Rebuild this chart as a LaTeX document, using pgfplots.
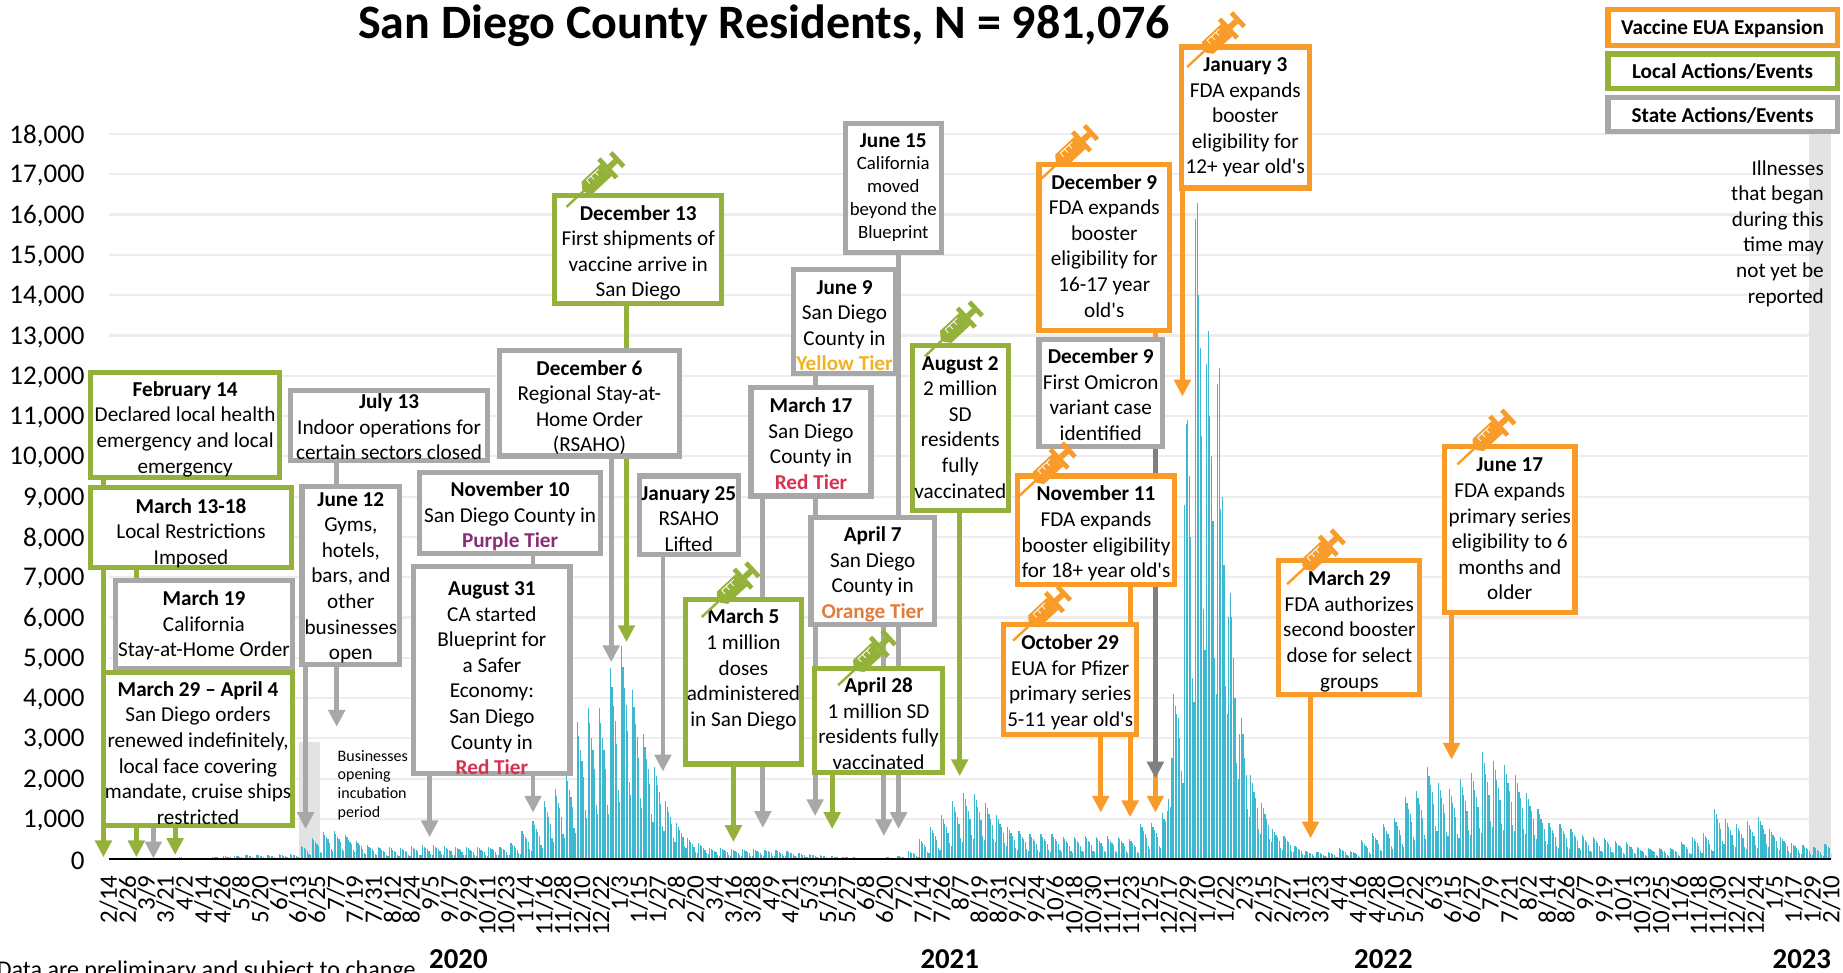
\documentclass[border=0pt]{standalone}
\usepackage{fontspec}
\setmainfont{Carlito}[Ligatures=TeXOff]
\usepackage{xcolor}
\usepackage{pgfplots}
\usepackage{pgfplotstable}
\pgfplotsset{compat=1.18}
\definecolor{cbar}{HTML}{3DB8CF}
\definecolor{cor}{HTML}{F99B28}
\definecolor{cgr}{HTML}{94B23A}
\definecolor{cgy}{HTML}{A8A8A8}
\definecolor{cdk}{HTML}{808080}
\definecolor{cshade}{HTML}{E3E3E3}
\definecolor{tpurple}{HTML}{8A2C78}
\definecolor{tred}{HTML}{D6324F}
\definecolor{torange}{HTML}{E27C3C}
\definecolor{tyellow}{HTML}{F0B323}

% daily counts, one row per week: d = day index of the Monday (0 = 2/14/2020)
\pgfplotstableread{
d c0 c1 c2 c3 c4 c5 c6
-4 0 0 0 0 0 0 0
3 0 0 0 0 0 0 0
10 0 0 0 0 0 0 0
17 2 2 2 1 1 1 1
24 10 9 8 7 6 4 3
31 30 27 24 22 18 11 9
38 40 36 32 29 24 14 12
45 50 45 40 36 30 18 15
52 40 36 32 29 24 14 12
59 40 36 32 29 24 14 12
66 60 54 48 43 36 22 18
73 80 72 64 58 48 29 24
80 90 81 72 65 54 32 27
87 110 99 88 79 66 40 33
94 110 99 88 79 66 40 33
101 100 90 80 72 60 36 30
108 120 108 96 86 72 43 36
115 130 117 104 94 78 47 39
122 340 306 272 245 204 122 102
129 530 477 424 382 318 191 159
136 680 612 544 490 408 245 204
143 700 630 560 504 420 252 210
150 610 549 488 439 366 220 183
157 440 396 352 317 264 158 132
164 350 315 280 252 210 126 105
171 300 270 240 216 180 108 90
178 300 270 240 216 180 108 90
185 280 252 224 202 168 101 84
192 320 288 256 230 192 115 96
199 350 315 280 252 210 126 105
206 350 315 280 252 210 126 105
213 320 288 256 230 192 115 96
220 310 279 248 223 186 112 93
227 300 270 240 216 180 108 90
234 300 270 240 216 180 108 90
241 310 279 248 223 186 112 93
248 310 279 248 223 186 112 93
255 400 360 320 288 240 144 120
262 700 630 560 504 420 252 210
269 950 855 760 684 570 342 285
276 1450 1305 1160 1044 870 522 435
283 1750 1575 1400 1260 1050 630 525
290 2150 1935 1720 1548 1290 774 645
297 3400 3060 2720 2448 2040 1224 1020
304 3750 3375 3000 2700 2250 1350 1125
311 3750 3375 3000 2700 2250 1350 1125
318 4750 4275 3800 3420 2850 1710 1425
325 5300 4770 4240 3816 3180 1908 1590
332 4200 3780 3360 3024 2520 1512 1260
339 3100 2790 2480 2232 1860 1116 930
346 2300 2070 1840 1656 1380 828 690
353 1450 1305 1160 1044 870 522 435
360 900 810 720 648 540 324 270
367 520 468 416 374 312 187 156
374 400 360 320 288 240 144 120
381 290 261 232 209 174 104 87
388 280 252 224 202 168 101 84
395 260 234 208 187 156 94 78
402 250 225 200 180 150 90 75
409 260 234 208 187 156 94 78
416 240 216 192 173 144 86 72
423 230 207 184 166 138 83 69
430 200 180 160 144 120 72 60
437 160 144 128 115 96 58 48
444 130 117 104 94 78 47 39
451 100 90 80 72 60 36 30
458 80 72 64 58 48 29 24
465 60 54 48 43 36 22 18
472 50 45 40 36 30 18 15
479 40 36 32 29 24 14 12
486 40 36 32 29 24 14 12
493 50 45 40 36 30 18 15
500 80 72 64 58 48 29 24
507 200 180 160 144 120 72 60
514 500 450 400 360 300 180 150
521 800 720 640 576 480 288 240
528 1100 990 880 792 660 396 330
535 1450 1305 1160 1044 870 522 435
542 1650 1485 1320 1188 990 594 495
549 1620 1458 1296 1166 972 583 486
556 1400 1260 1120 1008 840 504 420
563 1100 990 880 792 660 396 330
570 800 720 640 576 480 288 240
577 700 630 560 504 420 252 210
584 620 558 496 446 372 223 186
591 620 558 496 446 372 223 186
598 620 558 496 446 372 223 186
605 550 495 440 396 330 198 165
612 560 504 448 403 336 202 168
619 580 522 464 418 348 209 174
626 560 504 448 403 336 202 168
633 570 513 456 410 342 205 171
640 550 495 440 396 330 198 165
647 500 450 400 360 300 180 150
654 880 792 704 634 528 317 264
661 900 810 720 648 540 324 270
668 1150 1000 950 1200 1500 1300 2500
675 4100 3800 3600 3500 3000 2200 1900
682 8800 10800 10900 9500 8000 4500 3900
689 15900 16300 14000 12700 10500 6200 5200
696 12300 13100 11000 10000 8400 5000 4100
703 11800 12200 8700 9000 7300 4300 3600
710 6000 6600 6000 5000 4000 2400 2000
717 3100 3500 3100 2500 2100 1250 1050
724 2100 1890 1680 1512 1260 756 630
731 1400 1260 1120 1008 840 504 420
738 750 675 600 540 450 270 225
745 580 522 464 418 348 209 174
752 330 297 264 238 198 119 99
759 200 180 160 144 120 72 60
766 190 171 152 137 114 68 57
773 180 162 144 130 108 65 54
780 280 252 224 202 168 101 84
787 210 189 168 151 126 76 63
794 470 423 376 338 282 169 141
801 650 585 520 468 390 234 195
808 880 792 704 634 528 317 264
815 1020 918 816 734 612 367 306
822 1550 1395 1240 1116 930 558 465
829 1700 1530 1360 1224 1020 612 510
836 2300 2070 1840 1656 1380 828 690
843 1900 1710 1520 1368 1140 684 570
850 1750 1575 1400 1260 1050 630 525
857 2000 1800 1600 1440 1200 720 600
864 2150 1935 1720 1548 1290 774 645
871 2650 2385 2120 1908 1590 954 795
878 2450 2205 1960 1764 1470 882 735
885 2350 2115 1880 1692 1410 846 705
892 2100 1890 1680 1512 1260 756 630
899 1650 1485 1320 1188 990 594 495
906 1250 1125 1000 900 750 450 375
913 900 810 720 648 540 324 270
920 870 783 696 626 522 313 261
927 750 675 600 540 450 270 225
934 600 540 480 432 360 216 180
941 560 504 448 403 336 202 168
948 520 468 416 374 312 187 156
955 450 405 360 324 270 162 135
962 420 378 336 302 252 151 126
969 300 270 240 216 180 108 90
976 280 252 224 202 168 101 84
983 270 243 216 194 162 97 81
990 280 252 224 202 168 101 84
997 430 387 344 310 258 155 129
1004 550 495 440 396 330 198 165
1011 650 585 520 468 390 234 195
1018 1250 1125 1000 900 750 450 375
1025 1000 900 800 720 600 360 300
1032 870 783 696 626 522 313 261
1039 950 855 760 684 570 342 285
1046 1050 945 840 756 630 378 315
1053 750 675 600 540 450 270 225
1060 550 495 440 396 330 198 165
1067 400 360 320 288 240 144 120
1074 350 315 280 252 210 126 105
1081 300 270 240 216 180 108 90
1088 380 342 304 274 150 0 0
}\wk

\newcommand{\fs}{\fontsize{10.6}{12.8}\selectfont}
\newcommand{\fss}{\fontsize{9.4}{11.4}\selectfont}
% box: colour, x1, y1, x2, y2, text centre y, text
\newcommand{\bx}[7]{%
  \draw[#1,line width=2.6pt,fill=white] (#2+2,#3+2) rectangle (#4-2,#5-2);
  \node[align=center,inner sep=0pt,font=\fs] at ({(#2+#4)/2},#6+2) {\strut #7\strut};}
% arrow: colour, x, from y, tip y
\newcommand{\ar}[4]{%
  \draw[#1,line width=2.4pt] (#2,#3) -- (#2,#4-12);
  \fill[#1] (#2-7.5,#4-14) -- (#2+7.5,#4-14) -- (#2,#4) -- cycle;}
% syringe: colour, needle tip x, y
\newcommand{\syr}[3]{%
  \begin{scope}[shift={(#2,#3)},rotate=43]
    \draw[#1,line width=1.2pt] (0,0) -- (24,0);
    \fill[#1] (20,-2) -- (24,-7) -- (46,-7) -- (46,7) -- (24,7) -- (20,2) -- cycle;
    \fill[#1] (46,-11) rectangle (50,11);
    \fill[#1] (50,-2.5) rectangle (57,2.5);
    \fill[#1] (57,-8) rectangle (61,8);
    \draw[white,line width=.4pt] (28,-5) -- (28,-1) (33,-5) -- (33,-1) (38,-5) -- (38,-1) (28,-5) -- (42,-5);
  \end{scope}}

\begin{document}
\begin{tikzpicture}[x=0.58769pt,y=-0.58769pt]
\path[use as bounding box] (0,0) rectangle (1568,827);

\begin{axis}[
  at={(54.36pt,-429.6pt)}, anchor=south west,
  scale only axis,
  width=861.3pt, height=362.6pt,
  xmin=0, xmax=1092, ymin=0, ymax=18000,
  axis line style={draw=none},
  major tick length=0pt,
  ymajorgrids, grid style={draw=black!7,line width=1.1pt},
  ytick={0,1000,...,18000},
  scaled y ticks=false,
  /pgf/number format/1000 sep={,},
  /pgf/number format/assume math mode=true,
  yticklabel style={font=\fontsize{13.5}{15}\selectfont, xshift=-8.5pt, yshift=-0.8pt},
  xtick={0,12,...,1092},
  xticklabels={2/14,2/26,3/9,3/21,4/2,4/14,4/26,5/8,5/20,6/1,6/13,6/25,7/7,7/19,7/31,8/12,8/24,9/5,9/17,9/29,10/11,10/23,11/4,11/16,11/28,12/10,12/22,1/3,1/15,1/27,2/8,2/20,3/4,3/16,3/28,4/9,4/21,5/3,5/15,5/27,6/8,6/20,7/2,7/14,7/26,8/7,8/19,8/31,9/12,9/24,10/6,10/18,10/30,11/11,11/23,12/5,12/17,12/29,1/10,1/22,2/3,2/15,2/27,3/11,3/23,4/4,4/16,4/28,5/10,5/22,6/3,6/15,6/27,7/9,7/21,8/2,8/14,8/26,9/7,9/19,10/1,10/13,10/25,11/6,11/18,11/30,12/12,12/24,1/5,1/17,1/29,2/10},
  xticklabel style={rotate=90, anchor=east, font=\fontsize{12.5}{14}\selectfont, inner sep=1pt},
  xticklabel shift=7pt,
  clip=true,
]
  % shaded periods
  \addplot[fill=cshade,draw=none,forget plot] coordinates {(120.5,0) (120.5,2900) (134,2900) (134,0)} -- cycle;
  \addplot[fill=cshade,draw=none,forget plot] coordinates {(1078,0) (1078,18000) (1092,18000) (1092,0)} -- cycle;
  \pgfplotsinvokeforeach{0,...,6}{
    \addplot[ycomb,mark=none,draw=cbar,line width=0.58pt] table[x expr=\thisrow{d}+#1, y=c#1] {\wk};
  }
  \addplot[black,line width=1.4pt,mark=none] coordinates {(0,0) (1092,0)};
\end{axis}

% title and notes
\node[font=\bfseries\fontsize{24}{27}\selectfont] at (650,22) {San Diego County Residents, N = 981,076};
\node[anchor=west,inner sep=0pt,font=\fontsize{12}{14}\selectfont] at (-3,826) {Data are preliminary and subject to change};
\foreach \yx/\yl in {390/2020,808/2021,1177/2022,1533/2023}
  \node[font=\bfseries\fontsize{14.4}{16}\selectfont] at (\yx,816) {\yl};
\node[anchor=west,align=left,inner sep=0pt,font=\fontsize{8}{9.4}\selectfont] at (287,668) {Businesses\\opening\\incubation\\period};
\node[anchor=east,align=right,inner sep=0pt,font=\fs] at (1552,199) {\strut Illnesses\\that began\\during this\\time may\\not yet be\\reported\strut};

% arrows
\ar{cgr}{88}{408}{729}
\ar{cgr}{116}{485}{729}
\ar{cgy}{130.5}{571}{730}
\ar{cgr}{149}{704}{727}
\ar{cgy}{260}{567}{705}
\ar{cgy}{286.5}{394}{618}
\ar{cgy}{365.5}{660}{712}
\ar{cgy}{453.5}{473}{691}
\ar{cgy}{520}{390}{563}
\ar{cgr}{533}{260}{546}
\ar{cgy}{564}{474}{656}
\ar{cgr}{624}{652}{716}
\ar{cgy}{649}{424}{704}
\ar{cgy}{693.5}{320}{694}
\ar{cgr}{708}{659}{705}
\ar{cgy}{752}{533}{711}
\ar{cgy}{764.5}{217}{705}
\ar{cgr}{816.5}{436}{660}
\ar{cor}{936.5}{627}{691}
\ar{cor}{961.5}{499}{695}
\ar{cor}{983}{283}{691}
\ar{cdk}{983}{382}{662}
\ar{cor}{1006}{162}{337}
\ar{cor}{1115}{593}{713}
\ar{cor}{1235}{523}{646}

% legend
\bx{cor}{1366}{6}{1565}{41}{23}{\textbf{Vaccine EUA Expansion}}
\bx{cgr}{1366}{44}{1565}{77}{60.5}{\textbf{Local Actions/Events}}
\bx{cgy}{1366}{81}{1565}{114}{97.5}{\textbf{State Actions/Events}}

% event boxes
\bx{cgr}{75}{315}{240}{408}{363.5}{\textbf{February 14}\\Declared local health\\emergency and local\\emergency}
\bx{cgr}{75}{413}{250}{485}{452}{\textbf{March 13-18}\\Local Restrictions\\Imposed}
\bx{cgy}{96}{492}{251}{571}{530.5}{\textbf{March 19}\\California\\Stay-at-Home Order}
\bx{cgr}{86}{570}{251}{704}{640.5}{\textbf{March 29 – April 4}\\San Diego orders\\renewed indefinitely,\\local face covering\\mandate, cruise ships\\restricted}
\bx{cgy}{245}{330}{417}{394}{363}{\textbf{July 13}\\Indoor operations for\\certain sectors closed}
\bx{cgy}{255}{412}{342}{567}{489.5}{\textbf{June 12}\\Gyms,\\hotels,\\bars, and\\other\\businesses\\open}
\bx{cgy}{355}{400}{513}{473}{438}{\textbf{November 10}\\San Diego County in\\\textbf{\textcolor{tpurple}{Purple Tier}}}
\bx{cgy}{350}{480}{487}{660}{576.5}{\textbf{August 31}\\CA started\\Blueprint for\\a Safer\\Economy:\\San Diego\\County in\\\textbf{\textcolor{tred}{Red Tier}}}
\bx{cgy}{423}{296}{580}{390}{345.5}{\textbf{December 6}\\Regional Stay-at-\\Home Order\\(RSAHO)}
\bx{cgr}{470}{164}{616}{260}{213.5}{\textbf{December 13}\\First shipments of\\vaccine arrive in\\San Diego}
\bx{cgy}{542}{403}{630}{474}{441}{\textbf{January 25}\\RSAHO\\Lifted}
\bx{cgr}{581}{508}{684}{652}{568}{\textbf{March 5}\\1 million\\doses\\administered\\in San Diego}
\bx{cgy}{637}{328}{743}{424}{377.5}{\textbf{March 17}\\San Diego\\County in\\\textbf{\textcolor{tred}{Red Tier}}}
\draw[cgy,line width=2.6pt,fill=white] (719,105) rectangle (801,215);
\node[align=center,inner sep=0pt,font=\fss] at (760,160) {\strut{\fontsize{10.6}{11.4}\selectfont\textbf{June 15}}\\California\\moved\\beyond the\\Blueprint\strut};
\bx{cgy}{673}{227}{764}{320}{276.5}{\textbf{June 9}\\San Diego\\County in\\\textbf{\textcolor{tyellow}{Yellow Tier}}}
\bx{cgy}{688}{438}{797}{533}{487}{\textbf{April 7}\\San Diego\\County in\\\textbf{\textcolor{torange}{Orange Tier}}}
\bx{cgr}{691}{567}{804}{659}{615.5}{\textbf{April 28}\\1 million SD\\residents fully\\vaccinated}
\bx{cgr}{774}{292}{860}{436}{363}{\textbf{August 2}\\2 million\\SD\\residents\\fully\\vaccinated}
\bx{cor}{882}{138}{997}{283}{209}{\textbf{December 9}\\FDA expands\\booster\\eligibility for\\16-17 year\\old's}
\bx{cgy}{882}{287}{991}{382}{335.5}{\textbf{December 9}\\First Omicron\\variant case\\identified}
\bx{cor}{864}{403}{1001}{499}{452.5}{\textbf{November 11}\\FDA expands\\booster eligibility\\for 18+ year old's}
\bx{cor}{852}{529}{969}{627}{579}{\textbf{October 29}\\EUA for Pfizer\\primary series\\5-11 year old's}
\bx{cor}{1003}{38}{1116}{162}{98}{\textbf{January 3}\\FDA expands\\booster\\eligibility for\\12+ year old's}
\bx{cor}{1086}{475}{1210}{593}{535.5}{\textbf{March 29}\\FDA authorizes\\second booster\\dose for select\\groups}
\bx{cor}{1227}{378}{1342}{523}{449.5}{\textbf{June 17}\\FDA expands\\primary series\\eligibility to 6\\months and\\older}

% syringes
\syr{cgr}{482}{176}
\syr{cgr}{597}{525}
\syr{cgr}{713}{583}
\syr{cgr}{787}{303}
\syr{cor}{885}{153}
\syr{cor}{866}{423}
\syr{cor}{862}{545}
\syr{cor}{1010}{57}
\syr{cor}{1095}{497}
\syr{cor}{1240}{395}
\end{tikzpicture}
\end{document}
